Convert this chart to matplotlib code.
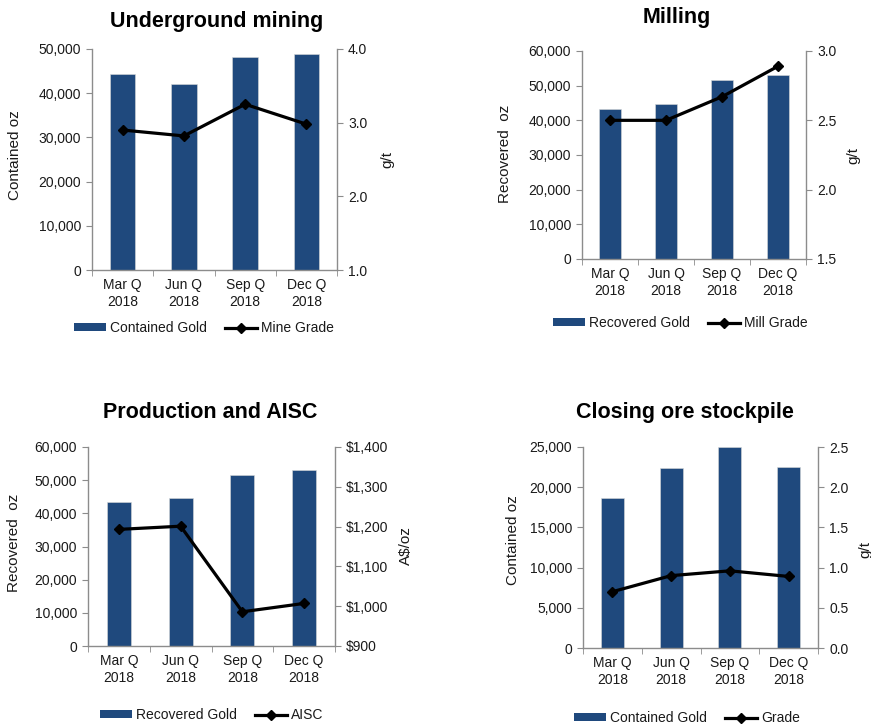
import matplotlib
matplotlib.use("Agg")
import matplotlib.pyplot as plt
import matplotlib.ticker as mticker
from matplotlib.patches import Patch
from matplotlib.lines import Line2D

# Data
quarters = ["Mar Q\n2018", "Jun Q\n2018", "Sep Q\n2018", "Dec Q\n2018"]

ug_contained = [44400, 42000, 48100, 48900]
ug_grade = [2.90, 2.82, 3.25, 2.98]

mill_recovered = [43300, 44600, 51700, 53100]
mill_grade = [2.50, 2.50, 2.67, 2.89]

prod_recovered = [43300, 44600, 51700, 53100]
aisc = [1193, 1201, 986, 1007]

stock_contained = [18600, 22400, 25000, 22500]
stock_grade = [0.70, 0.90, 0.96, 0.89]

W, H = 871, 724
BAR = "#1F497D"
SPINE = "#8C8C8C"
TXT = "#1a1a1a"

plt.rcParams["font.family"] = ["Liberation Sans", "DejaVu Sans"]
plt.rcParams["font.size"] = 10

fig = plt.figure(figsize=(W / 100, H / 100), dpi=100)


def px_rect(l, r, t, b):
    return [l / W, 1 - b / H, (r - l) / W, (b - t) / H]


def panel(rect, title, title_xy, bars, line, ylim, y2lim, ystep, y2step,
          yfmt, y2fmt, ylab, ylab_xy, y2lab, y2lab_xy, bar_name, line_name,
          leg_xy, bar_w):
    l, r, t, b = rect
    ax = fig.add_axes(px_rect(l, r, t, b))
    x = list(range(len(quarters)))
    ax.bar(x, bars, width=bar_w, color=BAR, edgecolor="#d9d9d9", linewidth=0.4, zorder=2)
    ax.set_xlim(-0.5, len(quarters) - 0.5)
    ax.set_ylim(*ylim)
    ax.yaxis.set_major_locator(mticker.MultipleLocator(ystep))
    ax.yaxis.set_major_formatter(mticker.FuncFormatter(yfmt))
    ax.set_xticks(x)
    ax.set_xticklabels(quarters, linespacing=1.2)
    ax.set_xticks([i - 0.5 for i in range(len(quarters) + 1)], minor=True)
    ax.tick_params(axis="x", which="major", length=0, pad=6, colors=TXT, labelsize=10)
    ax.tick_params(axis="x", which="minor", length=4, color=SPINE, direction="out")
    ax.tick_params(axis="y", length=4, color=SPINE, colors=TXT, pad=4, labelsize=10)
    for s in ("top", "right"):
        ax.spines[s].set_visible(False)
    for s in ("left", "bottom"):
        ax.spines[s].set_color(SPINE)
        ax.spines[s].set_linewidth(1.0)

    ax2 = ax.twinx()
    ax2.plot(x, line, color="black", linewidth=2.3, marker="D", markersize=5,
             zorder=3)
    ax2.set_ylim(*y2lim)
    ax2.yaxis.set_major_locator(mticker.MultipleLocator(y2step))
    ax2.yaxis.set_major_formatter(mticker.FuncFormatter(y2fmt))
    ax2.tick_params(axis="y", length=4, color=SPINE, colors=TXT, pad=4, labelsize=10)
    for s in ("top", "left", "bottom"):
        ax2.spines[s].set_visible(False)
    ax2.spines["right"].set_color(SPINE)
    ax2.spines["right"].set_linewidth(1.0)

    ax.set_ylabel(ylab, fontsize=11, color=TXT, va="center")
    ax.yaxis.set_label_coords((ylab_xy[0] - l) / (r - l), (b - ylab_xy[1]) / (b - t))
    ax2.set_ylabel(y2lab, fontsize=11, color=TXT, va="center", rotation=90)
    ax2.yaxis.set_label_coords((y2lab_xy[0] - l) / (r - l), (b - y2lab_xy[1]) / (b - t))

    fig.text(title_xy[0] / W, 1 - title_xy[1] / H, title, fontsize=15.5,
             fontweight="bold", ha="center", va="center", color="black")

    handles = [Patch(facecolor=BAR, edgecolor="none", label=bar_name),
               Line2D([], [], color="black", linewidth=2.3, marker="D",
                      markersize=5, label=line_name)]
    ax.legend(handles=handles, loc="center", ncol=2, frameon=False,
              bbox_to_anchor=(leg_xy[0] / W, 1 - leg_xy[1] / H),
              bbox_transform=fig.transFigure, fontsize=10,
              handlelength=2.3, handleheight=0.5, handletextpad=0.3,
              columnspacing=1.3, labelcolor=TXT)
    return ax, ax2


comma = lambda v, p: f"{v:,.0f}"
one_dec = lambda v, p: f"{v:.1f}"
dollars = lambda v, p: f"${v:,.0f}"

panel((92, 337, 49, 270), "Underground mining", (217, 21),
      ug_contained, ug_grade, (0, 50000), (1.0, 4.0), 10000, 1.0,
      comma, one_dec, "Contained oz", (15, 155), "g/t", (387, 160),
      "Contained Gold", "Mine Grade", (204, 328), 0.42)

panel((582, 806, 51, 259), "Milling", (677, 18),
      mill_recovered, mill_grade, (0, 60000), (1.5, 3.0), 10000, 0.5,
      comma, one_dec, "Recovered  oz", (505, 154), "g/t", (853, 155),
      "Recovered Gold", "Mill Grade", (680, 323), 0.40)

panel((88, 335, 447, 646), "Production and AISC", (210, 412),
      prod_recovered, aisc, (0, 60000), (900, 1400), 10000, 100,
      comma, dollars, "Recovered  oz", (14, 543), "A$/oz", (406, 546),
      "Recovered Gold", "AISC", (212, 715), 0.39)

panel((583, 818, 447, 648), "Closing ore stockpile", (685, 413),
      stock_contained, stock_grade, (0, 25000), (0.0, 2.5), 5000, 0.5,
      comma, one_dec, "Contained oz", (513, 540), "g/t", (865, 549),
      "Contained Gold", "Grade", (687, 718), 0.39)

fig.savefig("out.png", dpi=100)
